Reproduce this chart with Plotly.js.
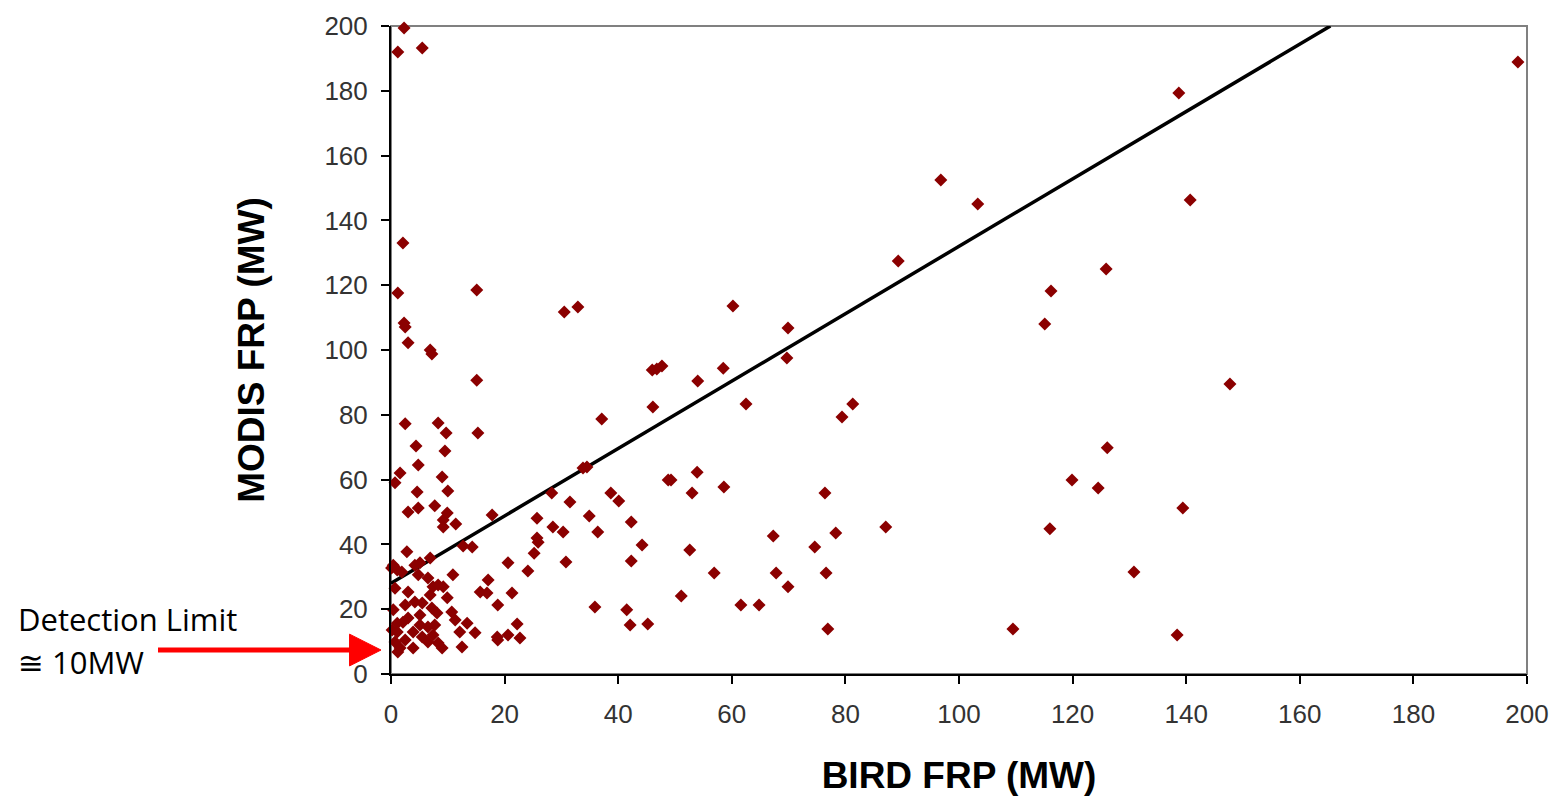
<!DOCTYPE html>
<html>
<head>
<meta charset="utf-8">
<script src="https://cdn.plot.ly/plotly-3.0.1.min.js"></script>
<style>
  html, body { margin: 0; padding: 0; background: #ffffff; }
  #chart { width: 1556px; height: 796px; }
</style>
</head>
<body>
<div id="chart"></div>
<script>
// BIRD FRP (MW) values (x)
const birdFRP = [
  2.3, 1.2, 5.5, 2.1, 1.2, 2.3, 2.5, 3.0, 6.9, 7.2,
  15.1, 15.1, 2.5, 8.3, 9.7, 15.3, 4.4, 9.5, 4.8, 1.6,
  0.7, 9.0, 10.0, 4.6, 3.0, 4.8, 7.7, 9.9, 9.2, 9.2,
  11.4, 2.8, 12.7, 14.3, 17.8,
  0.4, 1.1, 1.9, 4.2, 5.1, 6.9, 10.9, 15.7, 16.9, 4.8,
  6.5, 0.7, 7.4, 8.3, 9.2, 9.9, 6.9, 4.2, 5.5, 2.5,
  7.2, 8.1, 10.7, 11.3, 13.4, 1.1, 2.1, 3.0, 5.1, 6.5,
  7.7, 12.1, 14.8, 1.1, 3.9, 5.5, 7.4, 0.7, 2.5, 6.5,
  8.3, 1.6, 3.9, 9.0, 12.5, 1.2, 0.1, 0.4, 3.0, 0.2, 5.1,
  20.6, 24.1, 17.1, 21.3, 18.8, 22.2, 18.7, 18.8, 20.6, 22.7,
  30.5, 32.9, 60.2, 69.9, 69.7, 46.0, 46.8, 47.7, 58.5, 54.0,
  46.1, 62.5, 37.1, 33.8, 34.5, 48.8, 49.3, 53.9, 53.0, 58.6,
  28.3, 31.5, 38.7, 40.1, 25.7, 34.9, 28.5, 30.3, 36.4, 42.3,
  25.7, 25.9, 44.2, 25.2, 52.6, 30.8, 42.3, 56.9, 51.1, 35.9,
  41.5, 42.1, 45.2,
  198.4, 138.7, 96.8, 103.3, 140.7, 89.3, 125.9, 116.2, 115.1, 147.7,
  81.3, 79.4, 126.1, 119.9, 124.5, 76.4, 139.4, 78.3, 87.1, 116.0,
  74.6, 67.3, 76.6, 67.8, 69.9, 130.8, 61.6, 64.8, 76.9, 109.5, 138.4
];
// MODIS FRP (MW) values (y)
const modisFRP = [
  199.4, 192.0, 193.2, 133.0, 117.6, 108.3, 107.1, 102.2, 100.0, 98.8,
  118.5, 90.7, 77.2, 77.5, 74.4, 74.4, 70.4, 68.8, 64.5, 62.0,
  59.0, 60.8, 56.5, 56.2, 50.0, 51.2, 51.9, 49.7, 47.5, 45.4,
  46.3, 37.7, 39.5, 39.2, 49.1,
  33.6, 32.1, 31.5, 33.6, 34.3, 35.8, 30.6, 25.3, 25.0, 30.6,
  29.6, 26.5, 26.9, 27.5, 26.9, 23.5, 24.4, 22.2, 21.9, 21.3,
  20.4, 18.8, 19.1, 16.7, 15.7, 15.7, 16.0, 17.3, 15.1, 14.5,
  15.1, 13.0, 12.7, 13.0, 13.0, 11.4, 12.0, 9.9, 10.5, 9.9,
  9.6, 8.0, 8.0, 8.0, 8.3, 6.8, 32.7, 19.8, 25.3, 13.6, 18.2,
  34.3, 31.8, 29.0, 25.0, 21.3, 15.4, 11.4, 10.5, 12.0, 11.1,
  111.7, 113.3, 113.6, 106.8, 97.5, 93.8, 94.1, 95.1, 94.4, 90.4,
  82.4, 83.3, 78.7, 63.6, 63.9, 59.9, 59.9, 62.3, 55.9, 57.7,
  55.9, 53.1, 55.9, 53.4, 48.1, 48.8, 45.4, 43.8, 43.8, 46.9,
  42.0, 40.7, 39.8, 37.3, 38.3, 34.6, 34.9, 31.2, 24.1, 20.7,
  19.8, 15.1, 15.4,
  188.9, 179.3, 152.5, 145.1, 146.3, 127.5, 125.0, 118.2, 108.0, 89.5,
  83.3, 79.3, 69.8, 59.9, 57.4, 55.9, 51.2, 43.5, 45.4, 44.8,
  39.2, 42.6, 31.2, 31.2, 26.9, 31.5, 21.3, 21.3, 13.9, 13.9, 12.0
];
// Linear fit parameters (MODIS = slope * BIRD + intercept)
const fitSlope = 1.04;
const fitIntercept = 28;
const axisMax = 200;
const tickValues = [0, 20, 40, 60, 80, 100, 120, 140, 160, 180, 200];

const fitX = [0, (axisMax - fitIntercept) / fitSlope];
const fitY = fitX.map(v => fitSlope * v + fitIntercept);

const traces = [
  {
    x: fitX, y: fitY, type: 'scatter', mode: 'lines',
    line: { color: '#000000', width: 3.5 }, hoverinfo: 'skip', showlegend: false
  },
  {
    x: birdFRP, y: modisFRP, type: 'scatter', mode: 'markers',
    marker: { symbol: 'diamond', size: 10, color: '#8b0000', line: { width: 0 } },
    cliponaxis: false, showlegend: false
  }
];

const tickFont = { family: 'Liberation Sans, Arial, sans-serif', size: 26, color: '#333333' };
const titleFont = { family: 'Liberation Sans, Arial, sans-serif', size: 37, color: '#000000', weight: 'bold' };

const layout = {
  width: 1556, height: 796,
  margin: { l: 391, r: 29, t: 26, b: 122 },
  paper_bgcolor: '#ffffff', plot_bgcolor: '#ffffff',
  showlegend: false,
  xaxis: {
    range: [0, axisMax], tickvals: tickValues, ticktext: tickValues.map(String),
    showgrid: false, zeroline: false,
    showline: true, linecolor: '#000000', linewidth: 2,
    ticks: 'outside', ticklen: 8, tickwidth: 2, tickcolor: '#000000',
    tickfont: tickFont, automargin: false, ticklabelstandoff: 8,
    title: { text: '<b>BIRD FRP (MW)</b>', font: titleFont, standoff: 34 }
  },
  yaxis: {
    range: [0, axisMax], tickvals: tickValues, ticktext: tickValues.map(String),
    showgrid: false, zeroline: false,
    showline: true, linecolor: '#000000', linewidth: 2,
    ticks: 'outside', ticklen: 8, tickwidth: 2, tickcolor: '#000000',
    tickfont: tickFont, automargin: false, ticklabelstandoff: 8,
    title: { text: '<b>MODIS FRP (MW)</b>', font: titleFont, standoff: 48 }
  },
  shapes: [
    { type: 'rect', xref: 'paper', yref: 'paper', x0: 0, x1: 1, y0: 0, y1: 1,
      line: { color: '#808080', width: 2 }, layer: 'below' },
    { type: 'line', xref: 'paper', yref: 'paper', x0: -0.2051, x1: -0.034, y0: 0.037, y1: 0.037,
      line: { color: '#ff0000', width: 5 } },
    { type: 'path', xref: 'paper', yref: 'paper',
      path: 'M -0.0365 0.0615 L -0.0088 0.037 L -0.0365 0.0125 Z',
      fillcolor: '#ff0000', line: { color: '#ff0000', width: 1 } }
  ],
  annotations: [
    { text: 'Detection Limit', xref: 'paper', yref: 'paper', x: -0.3305, y: 0.0849,
      xanchor: 'left', yanchor: 'middle', showarrow: false,
      font: { family: 'Open Sans, Lato, sans-serif', size: 31, color: '#000000' } },
    { text: '\u2245 10MW', xref: 'paper', yref: 'paper', x: -0.3305, y: 0.0185,
      xanchor: 'left', yanchor: 'middle', showarrow: false,
      font: { family: 'Open Sans, DejaVu Sans, sans-serif', size: 31, color: '#000000' } }
  ]
};

Plotly.newPlot('chart', traces, layout, { displayModeBar: false, staticPlot: true });
</script>
</body>
</html>
